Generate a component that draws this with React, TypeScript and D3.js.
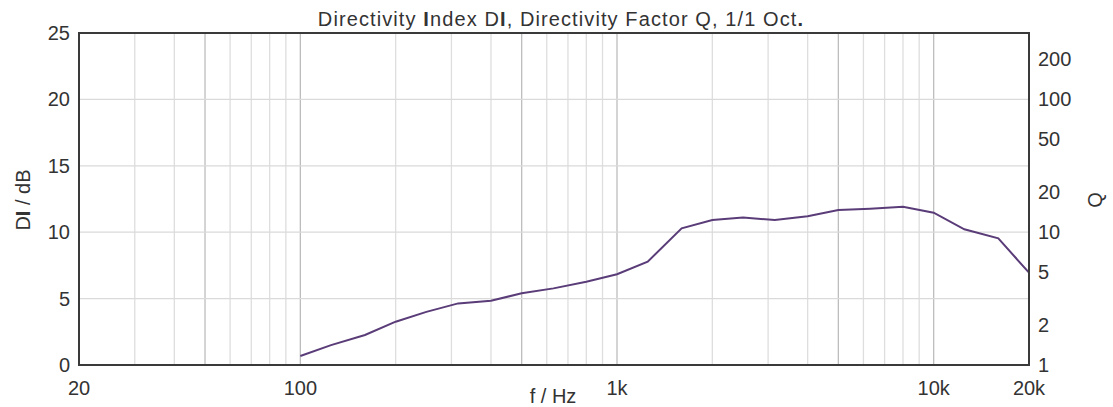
import * as d3 from 'd3';

const MARGIN = { top: 33, right: 84, bottom: 42, left: 79 };
const WIDTH = 1113;
const HEIGHT = 407;

// 1/3-octave band centres and the directivity index
const freqs = [100, 125, 160, 200, 250, 315, 400, 500, 630, 800, 1000, 1250, 1600, 2000, 2500, 3150, 4000, 5000, 6300, 8000, 10000, 12500, 16000, 20000];
const diValues = [0.68, 1.5, 2.26, 3.26, 4.0, 4.64, 4.84, 5.4, 5.77, 6.27, 6.83, 7.78, 10.29, 10.92, 11.1, 10.92, 11.2, 11.67, 11.77, 11.92, 11.47, 10.22, 9.54, 6.95];

const diTicks = [0, 5, 10, 15, 20, 25];
const qTicks = [1, 2, 5, 10, 20, 50, 100, 200];
const xLabels = [
    { f: 20, label: '20' },
    { f: 100, label: '100' },
    { f: 1000, label: '1k' },
    { f: 10000, label: '10k' },
    { f: 20000, label: '20k' },
];
const gridFreqs = [30, 40, 50, 60, 70, 80, 90, 100, 200, 300, 400, 500, 600, 700, 800, 900, 1000, 2000, 3000, 4000, 5000, 6000, 7000, 8000, 9000, 10000];
const strongFreqs = [50, 100, 500, 1000, 5000, 10000];

const FONT = 'Liberation Sans, Arial, sans-serif';
const FS = 20;

export default function App() {
    const boundsWidth = WIDTH - MARGIN.left - MARGIN.right;
    const boundsHeight = HEIGHT - MARGIN.top - MARGIN.bottom;

    const xScale = d3.scaleLog().domain([20, 20000]).range([0, boundsWidth]);
    const yScale = d3.scaleLinear().domain([0, 25]).range([boundsHeight, 0]);

    const line = d3
        .line<number>()
        .x((_, i) => xScale(freqs[i]))
        .y((d) => yScale(d));

    return (
        <svg width={WIDTH} height={HEIGHT} style={{ position: 'absolute', left: 0, top: 0 }}>
            <rect width={WIDTH} height={HEIGHT} fill="#fff" />
            <text x={561} y={26} textAnchor="middle" fontFamily={FONT} fontSize={FS} letterSpacing={1.1} fill="#333">
                Directivity <tspan fontWeight="bold">I</tspan>ndex D<tspan fontWeight="bold">I</tspan>, Directivity Factor Q, 1/1 Oct<tspan fontWeight="bold">.</tspan>
            </text>
            <g transform={`translate(${MARGIN.left},${MARGIN.top})`}>
                {gridFreqs.map((f) => (
                    <line
                        key={f}
                        x1={xScale(f)}
                        x2={xScale(f)}
                        y1={0}
                        y2={boundsHeight}
                        stroke={strongFreqs.includes(f) ? '#bdbdbd' : '#dedede'}
                        strokeWidth={1.3}
                    />
                ))}
                {diTicks.slice(1, -1).map((v) => (
                    <line key={v} x1={0} x2={boundsWidth} y1={yScale(v)} y2={yScale(v)} stroke="#dadada" strokeWidth={1.3} />
                ))}
                <path d={line(diValues) ?? ''} fill="none" stroke="#5a3c78" strokeWidth={2} />
                <rect x={0} y={0} width={boundsWidth} height={boundsHeight} fill="none" stroke="#3a3a3a" strokeWidth={2} />
                {diTicks.map((v) => (
                    <text key={v} x={-9} y={yScale(v)} dy="0.35em" textAnchor="end" fontFamily={FONT} fontSize={FS} fill="#333">
                        {v}
                    </text>
                ))}
                {qTicks.map((q) => (
                    <text key={q} x={boundsWidth + 9} y={yScale(10 * Math.log10(q))} dy="0.35em" textAnchor="start" fontFamily={FONT} fontSize={FS} fill="#333">
                        {q}
                    </text>
                ))}
                {xLabels.map((d) => (
                    <text key={d.label} x={xScale(d.f)} y={boundsHeight + 30} textAnchor="middle" fontFamily={FONT} fontSize={FS} fill="#333">
                        {d.label}
                    </text>
                ))}
                <text x={474} y={boundsHeight + 38} textAnchor="middle" fontFamily={FONT} fontSize={FS} fill="#333">
                    f / Hz
                </text>
            </g>
            <text transform="translate(30,200) rotate(-90)" textAnchor="middle" fontFamily={FONT} fontSize={FS} fill="#333">
                D<tspan fontWeight="bold">I</tspan> / dB
            </text>
            <text transform="translate(1102,200) rotate(-90)" textAnchor="middle" fontFamily={FONT} fontSize={FS} fill="#333">
                Q
            </text>
        </svg>
    );
}
